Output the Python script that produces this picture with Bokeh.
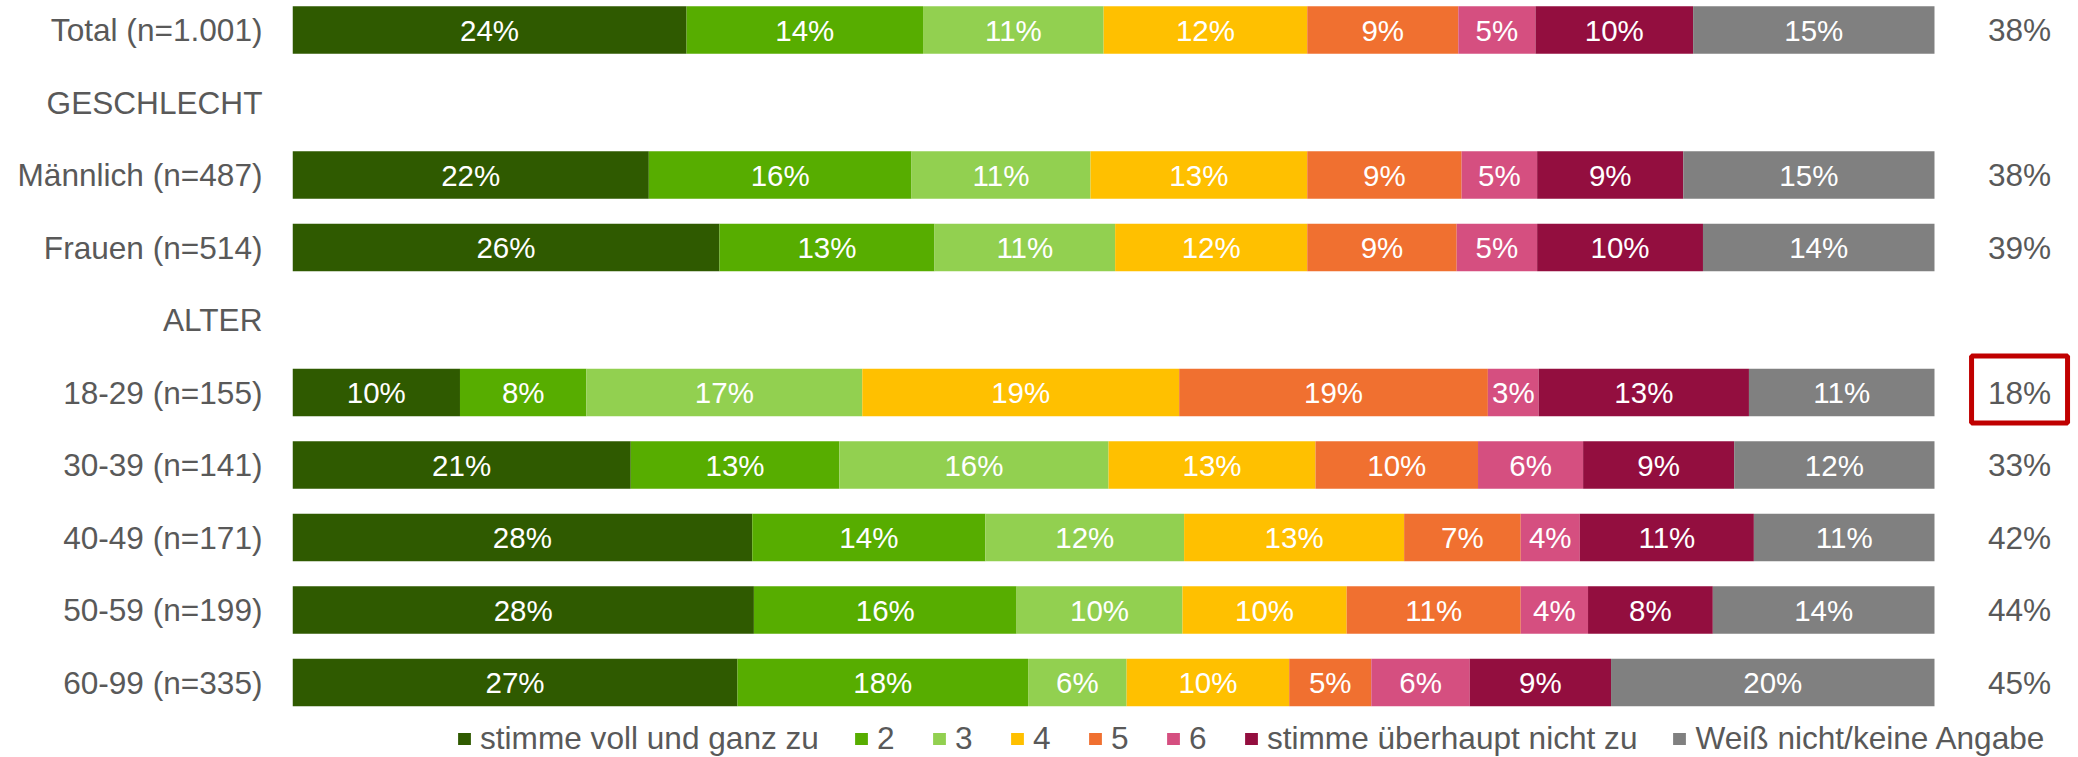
from bokeh.plotting import figure
from bokeh.models import ColumnDataSource, Range1d, FixedTicker
from bokeh.core.properties import value
from bokeh.embed import file_html
from bokeh.resources import INLINE
import numpy as np

# ---------------- data ----------------
row_labels = ["Total (n=1.001)", "GESCHLECHT", "Männlich (n=487)", "Frauen (n=514)",
              "ALTER", "18-29 (n=155)", "30-39 (n=141)", "40-49 (n=171)",
              "50-59 (n=199)", "60-99 (n=335)"]
groups = ["Total (n=1.001)", "Männlich (n=487)", "Frauen (n=514)", "18-29 (n=155)",
          "30-39 (n=141)", "40-49 (n=171)", "50-59 (n=199)", "60-99 (n=335)"]
categories = ["stimme voll und ganz zu", "2", "3", "4", "5", "6",
              "stimme überhaupt nicht zu", "Weiß nicht/keine Angabe"]

s_voll = [24.0, 21.7, 26.0, 10.2, 20.6, 28.0, 28.1, 27.1]
s_2 = [14.4, 16.0, 13.1, 7.7, 12.7, 14.2, 16.0, 17.7]
s_3 = [11.0, 10.9, 11.0, 16.8, 16.4, 12.1, 10.1, 6.0]
s_4 = [12.4, 13.2, 11.7, 19.3, 12.6, 13.4, 10.0, 9.9]
s_5 = [9.2, 9.4, 9.1, 18.8, 9.9, 7.1, 10.6, 5.0]
s_6 = [4.7, 4.6, 4.9, 3.1, 6.4, 3.6, 4.1, 6.0]
s_nicht = [9.6, 8.9, 10.1, 12.8, 9.2, 10.6, 7.6, 8.6]
s_wn = [14.7, 15.3, 14.1, 11.3, 12.2, 11.0, 13.5, 19.7]

top2 = [38, 38, 39, 18, 33, 42, 44, 45]
highlight_group = "18-29 (n=155)"

colors = ["#2F5A00", "#57AD00", "#92D050", "#FFC000", "#F07030", "#D54F80", "#930E3F", "#808080"]

# ---------------- build ----------------
FONT = "Liberation Sans"
GREY = "#595959"
series = [s_voll, s_2, s_3, s_4, s_5, s_6, s_nicht, s_wn]
keys = ["c%d" % i for i in range(len(series))]
ypos = [row_labels.index(g) for g in groups]

data = {"y": ypos}
for k, vals in zip(keys, series):
    data[k] = vals
src = ColumnDataSource(data)

p = figure(width=2078, height=757,
           x_range=Range1d(0, 108.77), y_range=Range1d(10.034, -0.4069),
           x_axis_location=None, y_axis_location="left",
           output_backend="svg", toolbar_location=None,
           min_border_left=292, min_border_right=0, min_border_top=0, min_border_bottom=0)

p.hbar_stack(keys, y="y", height=0.655, fill_color=colors, line_color=None,
             source=src, legend_label=categories)

# segment labels
arr = np.array(series)  # (cat, group)
right = np.cumsum(arr, axis=0)
left = right - arr
lx, ly, lt = [], [], []
for ci in range(arr.shape[0]):
    for gi in range(arr.shape[1]):
        lx.append(float((left[ci, gi] + right[ci, gi]) / 2))
        ly.append(ypos[gi])
        lt.append("%d%%" % int(round(arr[ci, gi])))
p.text(x=lx, y=ly, text=lt, text_align="center", text_baseline="middle",
       text_color="white", text_font=value(FONT), text_font_size="29.5px")

# right column (top-2)
net_x = 105.18
p.text(x=[net_x] * len(groups), y=ypos, text=["%d%%" % v for v in top2],
       text_align="center", text_baseline="middle", text_color=GREY,
       text_font=value(FONT), text_font_size="31.6px")

hi = ypos[groups.index(highlight_group)]
p.rect(x=[net_x], y=[hi - 0.04], width=96, height=67, width_units="screen", height_units="screen",
       fill_color=None, line_color="#C00000", line_width=5)

# axis with row labels
ax = p.yaxis[0]
ax.ticker = FixedTicker(ticks=list(range(len(row_labels))))
ax.major_label_overrides = {i: lab for i, lab in enumerate(row_labels)}
ax.axis_line_color = None
ax.major_tick_line_color = None
ax.minor_tick_line_color = None
ax.major_tick_out = 0
ax.major_tick_in = 0
ax.major_label_standoff = 30
ax.major_label_text_font = FONT
ax.major_label_text_font_size = "31.6px"
ax.major_label_text_color = GREY

p.grid.visible = False
p.outline_line_color = None

lg = p.legend[0]
lg.orientation = "horizontal"
lg.location = (164, 0)
lg.glyph_width = 16
lg.glyph_height = 15
lg.label_standoff = 8
lg.spacing = 34
lg.padding = 0
lg.margin = 0
lg.border_line_color = None
lg.background_fill_alpha = 0
lg.label_text_font = FONT
lg.label_text_font_size = "31.6px"
lg.label_text_color = GREY

open("out.html", "w").write(file_html(p, INLINE))
